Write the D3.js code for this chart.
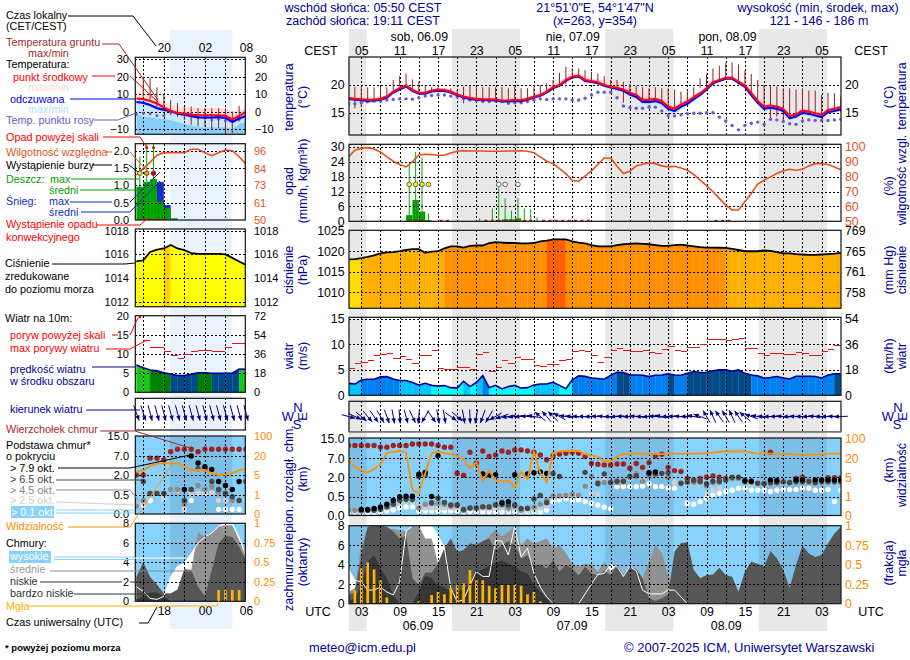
<!DOCTYPE html>
<html><head><meta charset="utf-8">
<script src="https://cdn.jsdelivr.net/npm/d3@7"></script>
<style>
html,body{margin:0;padding:0;background:#fff}
svg{display:block;font-family:"Liberation Sans",Arial,sans-serif;font-size:10.8px}
</style></head><body><svg id="c" width="910" height="660"></svg>
<script>
// ---------- main meteogram (hourly, 78 steps, 01 UTC 06.09 onward) ----------
const temp=[17.65,17.5,17.4,17.3,17.35,17.5,17.9,18.8,19.4,19.9,
19.1,18.6,18.6,19,19.15,19.1,18.8,18.3,17.9,17.65,
17.5,17.4,17.4,17.35,17.2,17.2,17.3,17.25,17.5,17.9,
18.2,18.8,19.6,20,20.9,21.5,21.7,20.9,20.7,20.5,
20,19.7,19.5,19.2,18.6,18.2,17.3,17.3,17.5,17.1,
16.1,15.7,16.5,17,17.8,18.5,19.4,20.5,20.9,21.3,
21.3,20.6,19.9,18.5,17.1,16.1,16.3,16.1,15.7,14.4,
14.7,15.4,15.2,14.9,14.6,15.5,15.7,16];
const feels=[17.5,17.35,17.25,17.15,17.2,17.35,17.75,18.65,19.25,19.75,
18.95,18.45,18.45,18.85,19,18.95,18.65,18.15,17.75,17.5,
17.35,17.25,17.25,17.2,17.05,17.05,17.15,17.1,17.35,17.75,
18.05,18.65,19.45,19.85,20.75,21.35,21.55,20.75,20.55,20.35,
19.85,19.55,19.3,18.95,18.3,17.85,16.95,16.9,17.1,16.7,
15.7,15.3,16.1,16.6,17.45,18.2,19.2,20.3,20.75,21.15,
21.15,20.4,19.65,18.2,16.8,15.7,15.9,15.7,15.3,14,
14.3,15,14.8,14.5,14.2,15.1,15.3,15.6];
const tempHi=[18.3,18.1,17.9,17.8,17.7,17.9,18.3,19.1,19.7,20.2,
19.4,18.9,18.9,19.3,19.5,19.4,19.1,18.6,18.2,18,
17.9,17.8,17.8,17.7,17.6,17.6,17.6,17.6,17.8,18.2,
18.6,19.3,20.1,20.5,21.3,22,22.2,21.5,21.2,21,
20.9,20.6,20.4,20.1,19.6,19.2,18.6,18.5,18.5,18.1,
17,16.4,17.2,17.6,18.2,18.9,19.7,20.8,21.2,21.6,
21.7,21,20.2,19,17.6,16.5,16.6,16.4,16,14.7,
15,15.7,15.5,15.2,14.9,15.8,16,16.3];
const feelsLo=[16.8,16.7,16.7,16.7,16.8,17,17.4,18.3,18.9,19.4,
18.6,18.1,18.2,18.5,18.7,18.6,18.4,17.9,17.5,17.2,
17.1,17,17,16.9,16.8,16.8,16.9,16.9,17.1,17.5,
17.8,18.4,19.2,19.6,20.5,21.1,21.3,20.5,20.3,20.1,
19.6,19.3,19,18.6,18,17.4,16.4,16.2,16.5,16,
15,14.6,15.5,16.1,17,17.8,18.9,20,20.5,20.9,
20.9,20.1,19.4,17.9,16.5,15.4,15.6,15.3,14.9,13.6,
13.9,14.6,14.4,14.1,13.8,14.7,15,15.2];
const dew=[16.6,16.6,16.8,17,17.1,17.1,17.3,17.4,17.5,17.5,
17.45,17.7,18,18.1,18.2,18.2,18,17.9,17.5,17.3,
17.2,17,17,17.1,17,16.7,16.8,16.8,17,17.3,
17.5,17.4,17.5,17.5,17.5,17.3,17.3,17.6,18.2,18.7,
18.7,18.7,17.7,16.2,15.9,15.8,15.8,16,16,15.3,
14.5,14.4,14.6,14.8,14.9,14.9,15,15,14.2,13.5,
12.7,11.9,12.7,13.1,13.3,12.9,13.8,13.7,13.4,13,
12.9,13.5,13.7,13.6,13.6,13.6,13.7,13.8];
const soilMax=[19.6,19.6,19.6,19.6,19.6,19.6,19.6,20.9,21.6,22.1,
21,20.6,19.9,19.6,19.6,19.4,19.4,19.1,19.7,19.8,
19.6,19.6,19.6,19.6,19.6,19.4,19.7,19.4,19.4,19.6,
20,20.3,20.9,22.2,23.3,23,23,22.7,22.4,22.1,
21.6,20.9,20.9,20.6,20.2,19.8,19.6,19.4,19.6,19.4,
19.4,19.2,18.8,19.2,19.6,21.2,22,23,23.5,24,
24.1,23.7,22.6,22,20.9,20,19.9,19.7,19.4,19.4,
19.2,19.4,19,19,18.2,18.6,18.5,17.9];
const soilMin=[16.2,15.8,16,16.7,17.4,17.4,17.9,19,19.7,19.8,
19,18.5,18.6,19,19.1,19.1,18.8,18.3,16.7,17.6,
17.4,17.3,17.3,17.1,17.1,16.8,17.1,17.1,17.4,17.8,
18.2,18.7,19.4,19.9,20.2,21.1,21.3,20.9,20.7,20.4,
19.8,19.6,19.4,16.8,18.7,17.6,17,17.3,17,16.7,
16,15.5,16.7,17,17.9,19.5,18.9,20.5,20.8,21.1,
21.1,20.5,19.7,18.4,16.7,16,14,14.3,13.7,14.2,
14.3,14.6,14.6,14.6,14.3,15,15.1,15.1];
const humidity=[93.3,97.8,99.1,99.6,98.7,96.7,93.3,90.4,88.2,86.6,
90,94.6,95.1,94.9,94.4,94.4,96,97.1,97.5,97.3,
97.3,97.3,97.1,97.1,97.1,97.3,97.3,97.5,97.1,96.2,
93.3,90.4,88.8,85.5,82.1,77.5,77,80.4,83.9,88.2,
92.6,92.6,87,82.1,83.7,87.3,88.4,89.5,88.8,87.3,
86.6,87,85.9,84.4,81.5,77.7,74,69.9,65.4,60.9,
57.6,57.6,63.2,68.7,75,77.7,79.9,82.1,83.9,85,
84.4,85,87.3,88.8,88.8,88.2,86.6,84.8];
const rainAvg=[0,0,0,0,0,0,0,0,0,2.5,
8.6,3.9,.5,0,0,0,0,0,0,0,
0,0,0,.3,.8,.8,1.2,.2,0,0,
0,0,0,0,0,0,0,0,0,0,
0,0,0,0,0,0,0,0,0,0,
0,0,0,0,0,0,0,0,0,0,
0,0,0,0,0,0,0,0,0,0,
0,0,0,0,0,0,0];
const rainMax=[0,0,0,0,0,0,0,0,0,22.7,
28,25.8,3.2,0,0,0,0,0,0,0,
1.2,0,5.2,13.7,9.3,4.3,9.3,5.2,5,1.5,
.5,0,0,0,0,0,0,0,0,0,
0,0,0,0,0,0,0,0,0,0,
0,0,0,0,0,0,0,0,0,0,
0,0,0,0,0,0,0,0,0,0,
0,0,0,0,0,0,0];
const convective=[9,10,11,14,15,21,22,23,24,25,26,27,28,30,31,32,33,34,35,36,37,57,58,59];
const thunderStrong=[9,10,11,12];
const thunderWeak=[23,24,26];
const pressure=[1018,1018.1,1018.3,1018.6,1019,1019.5,1019.7,1019.8,1020,1020.3,
1020.5,1020.5,1019.6,1019.9,1020,1020.7,1021.2,1021.2,1020.9,1021.3,
1021.4,1021.4,1022,1022.2,1022.1,1022,1022,1021.9,1021.9,1022,
1022.4,1022.6,1022.9,1022.9,1022.9,1022.4,1022.1,1021.9,1021.5,1021.2,
1021.2,1021.2,1021.5,1021.7,1021.8,1021.9,1021.8,1021.7,1021.5,1021.3,
1021.3,1021.5,1021.6,1021.4,1021.2,1021,1020.9,1020.9,1020.85,1020.8,
1020.6,1020.3,1020,1020,1020,1020.2,1020.1,1019.8,1019.5,1019.5,
1019.3,1019.2,1019.1,1019.1,1019.2,1019.3,1019.4,1019.6];
const wind=[2.35,2.2,3,3.15,3.15,3.6,3.65,3.2,2.9,2.9,
2.5,2,2.35,1.95,1.8,1.9,1.5,1.4,2.75,1.7,
2.5,3.85,1.5,1.95,1.25,1.7,1.95,1.4,1.5,2,
2.2,2.2,2.55,1.95,1.3,3.02,3.8,3.7,3.4,3.3,
3.14,3.9,4.5,4.45,3.98,3.98,3.93,3.67,3.93,3.98,
4.2,3.98,3.93,4.3,4.65,4.45,4.5,4.8,4.98,4.98,
4.7,4.98,4.3,3.98,3.8,3.34,3.47,3.67,3.4,3.2,
3.73,3.73,3.73,3.67,3.4,3.98,4.2,4.2];
const gust=[5.3,6.3,6.5,6.9,7.9,8.1,8.25,7.3,7.7,7.1,
6.3,7.9,7.9,8.8,5.3,5.2,5.2,5.5,5.6,5.2,
8.05,8.45,4.7,5.6,6.9,6.3,7.5,7.1,7.1,5.9,
5.7,6.1,6.1,6.9,7.1,8.65,8.8,8.65,7.9,6.5,
7.5,8.9,9.2,8.85,8.65,8.65,8.9,8.45,8.25,9,
9.7,8.9,8.65,9.4,9.55,10.1,11,11.1,11.1,10.8,
11,11.2,9.2,9.2,8.25,7.85,8.25,8.25,8.05,8.05,
8.45,8.25,7.85,7.85,8.65,9,9.9];
const windDir=[285,295,310,320,325,330,340,350,355,345,
335,5,30,325,350,350,305,310,350,358,
10,20,30,60,70,80,85,85,95,100,
130,140,135,120,100,95,92,90,88,92,
95,88,85,92,88,95,90,85,95,100,
88,92,95,90,100,110,150,155,145,150,
155,145,130,110,100,92,88,90,95,88,
92,90,88,95,90,88,92,88];
const cloudTop=[12.1,12.1,12.1,12.1,12.1,11.4,11.4,12.1,12.1,12.1,
12.7,12.7,12.7,12.7,12.1,11.4,11.4,3.05,2.5,9.4,
5.7,9.9,7.7,8.3,9.9,9.4,10.3,10.3,9.9,9.4,
8.3,6.6,8,8.7,9,9.4,9,7.7,5.6,5.4,
5.25,5.25,5.5,5.5,4.35,5.6,4.6,5.85,8,8.6,
4.6,3.75,3.5,1.92,1.8,1.92,2,2.35,2,1.92,
1.97,1.92,null,null,null,null,9.4,null,null,null,
1.92,2,null,null,null,1.97,1.97,1.97];
const base79=[null,null,.16,.16,.19,.23,.3,.4,.5,.54,
.54,2.8,3.3,.52,8,null,null,null,null,null,
null,2.9,2.7,2.7,.34,.37,2.7,null,2.9,3.2,
3.4,3,null,null,null,null,null,null,null,null,
null,null,null,null,null,null,null,3.2,3.4,null,
null,null,null,null,null,null,null,null,null,null,
null,null,1.75,1.7,null,null,1.8,1.75,null,null,
1.8,1.8,null,1.8,1.8,1.8,1.8,1.8];
const base65=[null,null,.14,.14,.14,.17,.23,.3,.41,.43,
.43,2.2,2.5,.34,.46,.35,.28,.28,.16,.2,
.2,.23,.23,.28,.3,.28,.28,.19,.19,.44,
.6,.34,3,2.2,null,null,null,3.3,null,1.5,
2.9,1.6,1.7,1.7,2.3,2.4,null,3,2.9,3,
3.2,null,1.55,1.65,1.75,1.7,1.5,1.7,1.7,1.8,
2,2,1.7,1.7,1.55,1.5,1.6,1.6,1.65,1.6,
1.7,1.7,1.7,1.6,1.7,1.7,1.7,1.7];
const base45=[.14,.14,.12,.15,.17,.2,.26,.33,.4,.42,
.42,.2,.3,.32,.32,.3,.25,.26,.14,.2,
.2,.24,.22,.3,.28,.2,.24,.14,.2,.22,
.3,.4,.55,.55,.6,.7,.62,1.3,2.3,1.6,
1.6,1.6,1.6,1.65,2,3,1.7,2.5,2.6,3,
2,null,1.5,1.6,1.6,1.6,1.35,1.6,1.6,1.8,
1.9,1.9,1.6,1.6,1.5,1.5,1.5,1.55,1.65,1.6,
1.6,1.6,1.6,1.55,1.6,1.6,1.6,1.6];
const base25=[.12,.12,.1,.12,.12,.15,.2,.3,.35,.38,
.38,.28,.2,.2,.2,.2,.2,.2,.12,.18,
.18,.2,.18,.2,.2,.16,.18,.12,.14,.15,
.2,.25,.5,.55,.56,.6,.58,1.28,.76,.7,
1.8,1.6,1.6,1.6,1.9,3,1.8,2.6,2.6,2.6,
3,1.6,1.5,1.5,1.5,1.5,.76,1,1.15,1.8,
1.9,1.9,1.6,1.5,1.5,1.4,1.5,1.5,1.6,1.6,
1.6,1.6,1.6,1.55,1.55,1.55,1.55,1.55];
const base01=[.1,.1,.08,.08,.08,.1,.12,.15,.2,.23,
.23,.12,.12,.12,.12,.12,.12,.12,.1,.1,
.1,.1,.1,.1,.1,.1,.1,.1,.1,.1,
.1,.15,.37,.42,.45,.4,.42,.37,.32,.28,
.22,.18,1.28,1.28,1.28,1.28,1.33,1.5,1.28,1.28,
1.15,1.15,null,.32,.3,.37,.46,.63,.76,.9,
1,1.15,1.15,1,1,1,.9,1,1.05,1.05,
1.05,1.15,1.15,1,1,1.05,.37,1];
const visibility=[18.7,13,10.5,8.7,11.5,15.3,40,45,49,44,
2.4,1.7,8,40,47,40,36,30.7,18.7,12.1,
16.8,4.3,10,4.4,4.1,4.3,2.9,9.5,4.6,47,
8.2,4,40,47,49,49,49,36,30,26.7,
17.4,17.4,26.7,36,36,38,38,36,36,36,
38,38,38,38,38,38,40,42,45,47,
47,47,47,42,38,38,38,36,36,36,
34,34,34,34,34,38,38,38];
const cloudHigh=[3.6,2.4,2.25,1.4,1.4,1.7,1.2,.9,2.25,7.4,
8,8,8,8,7,5.7,1.6,.2,.4,1.9,
3.3,2.8,2.8,6.5,6.4,5,7.9,4.8,5.7,3.1,
1.7,.7,0,0,0,0,0,1,2,3,
3.1,4,3.8,2.8,3.8,3.4,1.4,1,1,1,
1.4,1.4,.7,0,0,0,0,0,0,0,
0,0,0,0,0,0,0,0,0,0,
0,0,0,0,0,0,0,0];
const cloudMid=[1.2,1.6,6,7.9,8,7.9,7.7,7.7,7.55,7.4,
8,8,6.7,6.7,4.1,5.7,6.7,5.3,5.5,6,
6.2,6.4,6.9,7.6,6.9,7.4,7.9,6,6.7,6.2,
6.4,6.7,5.7,6,5.2,4.1,3.8,4.1,4,3.3,
4.3,3.3,4,3.1,3.8,3.5,2.6,4.3,6,5.2,
2.9,1.5,.7,0,0,0,0,0,0,0,
0,0,0,0,0,0,0,0,0,0,
0,0,0,0,0,0,0,0];
const cloudLow=[.9,1.2,5,7.9,8,8,7.9,7.4,6.7,7,
2.6,1.9,3.2,3.2,4.1,5.7,6.7,5.3,5.5,6.2,
6,6.4,6.7,5.5,6,6.4,6,4.6,5,4,
4,3.6,4.5,3.3,4,3.6,2.9,3.8,3.1,2.9,
3.35,2.94,3.97,2.77,3.8,3.55,2.6,.55,.27,.55,
.9,5.33,6.2,6.3,3.45,2.6,2.94,3,3.7,2.94,
2.77,1.23,3.3,4.3,4.1,3.8,5.4,4.65,3.45,1.64,
3.97,5.95,5.15,4.8,5,6.2,7.2,7.9];
const cloudVeryLow=[.3,.5,1.9,4.3,5,3.6,2.6,.9,0,0,
0,1.2,2.9,2.6,1.9,1.7,1.2,1.2,1.5,1.9,
3.3,3.5,3.9,4.2,4.4,4.1,3.8,3.3,3.1,1.9,
1.2,.5,0,0,0,0,0,0,0,0,
0,0,0,0,0,0,0,0,0,0,
0,0,0,0,0,0,0,0,0,0,
0,0,0,0,0,0,0,0,0,0,
0,0,0,0,0,0,0,0];
const fog=[.02,.17,.45,.53,.44,.3,.08,0,0,0,
0,.03,0,.11,.15,.12,.2,.24,.26,.43,
.3,.3,.23,.2,.24,.24,.25,.23,.12,.15,
.03,0,0,0,0,0,0,0,0,0,
0,0,0,0,0,0,0,0,0,0,
0,0,0,0,0,0,0,0,0,0,
0,0,0,0,0,0,0,0,0,0,
0,0,0,0,0,0,0,0];
const nightStart=[-2,16.18,40.18,64.18];
const nightEnd=[2.83,26.83,50.83,74.83];
// tick labels
const cestTicks=["05","11","17","23","05","11","17","23","05","11","17","23","05"];
const utcTicks=["03","09","15","21","03","09","15","21","03","09","15","21","03"];
const dayTitles=["sob, 06.09","nie, 07.09","pon, 08.09"];
const dayDates=["06.09","07.09","08.09"];

// ---------- left "current" panel (hourly, 17 steps) ----------
const lTemp=[7.5,7.1,6.1,4.6,2.3,.4,-.8,-1.1,-1.7,-2.1,-2.1,-2.1,-2.1,-2.5,-4.4,-2.5,-.1];
const lFeels=[5.5,5,3.8,2,1,.3,-1.2,-1.8,-2.6,-3.4,-3.5,-3.4,-3.2,-3.6,-6,-4,-2.6];
const lHi=[12,11,9,7,5,3.5,2.5,2.5,2.5,2,2,2,2,1.5,0,1,2];
const lLo=[-1.5,-3,-3,-4,-4,-5,-6,-7,-8,-9,-9,-9,-9,-9,-10,-7,-6];
const lDew=[-1.5,-1,-1.3,-2.3,-2.3,-.6,-1,-1.3,-1.5,-3.4,-3.3,-4.8,-4.4,-5.2,-5.2,-4.2,-1.9];
const lSoilMax=[null,20,19.1,14,9.6,6.7,4.8,2.9,2.9,1.9,1.9,1.9,1.9,1.9,0,3.3,null];
const lSoilMin=[null,8.6,6.7,2.9,1,-1.9,-2.9,-4.8,-7.6,-8.6,-8.6,-10.5,-9.6,-12.4,-12.4,-5.7,null];
const lHumidity=[79.8,84.3,88.3,93,94.7,94.7,94.7,94.7,97,97,94.7,92.7,94.7,96.4,96,92,87];
const lRainAvg=[.96,1.1,1.18,.53,.34,.05,0,0,0,0,0,0,0,0,0,0];
const lSnowTop=[0,0,0,1.1,.43,0,0,0,0,0,0,0,0,0,0,0];
const lRainMax=[1.83,2.3,2.3,0,0,0,0,0,0,0,0,0,0,0,0,0];
const lConvective=[1,2,3,4];
const lPressure=[1015.4,1015.5,1016.2,1016.4,1016.5,1016.8,1016.5,1016.35,1016.1,1016.05,1016.05,1016.05,1016.05,1016,1015.7,1015.4,1015.1];
const lWind=[7.1,6.4,5.8,5.6,5.1,4.8,4.4,4.35,4.7,5.1,5.1,4.98,4.95,4.98,4.98,6.05,6];
const lGust=[20,13.65,11.7,11.7,10.7,9.7,9,9.9,10.7,11,11,10.7,10.7,11.7,12.8,13];
const lDir=[340,342,345,345,345,345,345,345,345,345,345,345,345,345,345,345,345];
const lTop=[2,2,6.5,6.5,6,8.8,9.75,9.75,9.75,8.8,9.75,9.75,9.75,9.75,9.75,9.75,9.75];
const lB79=[null,null,null,null,null,null,null,.9,7.1,5.2,4.2,3.5,1.5,1.2,.9,1.5,null];
const lB65=[null,1.5,.6,.6,.6,null,null,.35,.9,3.7,3.7,1.5,.9,.6,.45,.35,1.5];
const lB45=[.2,.35,.6,.6,.6,.9,.9,.25,.9,1.2,.9,1.1,.7,.55,.35,.35,1.5];
const lB25=[.2,.3,.55,.6,.4,.9,.8,.1,.55,.6,.6,.6,.35,.35,.35,.35,.35];
const lB01=[null,.23,.35,null,.4,null,null,.12,.35,.6,.6,.6,.12,.12,.12,.12,null];
const lVis=[7.7,8.5,12.5,14,14.4,14.4,14.4,12,9,9,9,6.3,5,5.5,6.3,9,9.5];
const lHigh=[1.5,1,.3,.2,.5,2.5,3.6,3.9,4.9,6,6.6,7,7.7,8,8,6.6,4.6];
const lMid=[2.5,4,2.5,1.7,.8,.8,1.2,3.3,3.2,7.1,6.6,7,7.7,7.8,7.8,6.3,4.6];
const lLow=[2.5,4,2.5,1.7,.8,.8,1.16,3.3,3.2,1.5,.5,3.2,5.95,6.7,6.6,5.6,4.07];
const lVeryLow=[.2,.5,.9,.9,.5,0,0,0,0,0,0,0,0,0,0,0,0];
const lFog=[0,0,0,0,0,0,0,0,0,0,0,0,.145,.145,.145,.145,0];

// ---------- drawing ----------
const svg=d3.select("#c");
const navy="#000099",humCol="#e8501a",orange="#ff8c00",soilCol="#a01c1c",dewCol="#6a5acd";
const xM=d3.scaleLinear([0,77],[348.5,840.8]);
const xL=d3.scaleLinear([0,16],[136.4,246]);
const ML={l:349,r:841},LL={l:135.3,r:245.3};
const FM=12.3,FL=11;
let clipId=0;
function frame(side,top,bot){
  const g=svg.append("g");
  const id="cp"+(clipId++);
  svg.append("clipPath").attr("id",id).append("rect").attr("x",side.l).attr("y",top).attr("width",side.r-side.l).attr("height",bot-top);
  g.attr("clip-path",`url(#${id})`);
  return g;
}
function border(side,top,bot,w){
  svg.append("rect").attr("x",side.l).attr("y",top).attr("width",side.r-side.l).attr("height",bot-top)
    .attr("fill","none").attr("stroke","#111").attr("stroke-width",w||1.2);
}
function grid(g,side,top,bot,vx,hy){
  g.selectAll(null).data(vx).join("line").attr("x1",d=>Math.round(d)+.5).attr("x2",d=>Math.round(d)+.5).attr("y1",top).attr("y2",bot)
    .attr("stroke","#000").attr("stroke-dasharray","2,2").attr("stroke-width",1).attr("shape-rendering","crispEdges");
  g.selectAll(null).data(hy).join("line").attr("y1",d=>Math.round(d)+.5).attr("y2",d=>Math.round(d)+.5).attr("x1",side.l).attr("x2",side.r)
    .attr("stroke","#000").attr("stroke-dasharray","2,2").attr("stroke-width",1).attr("shape-rendering","crispEdges");
}
function yAxis(scale,vals,x,side,color,fmt,fs){
  const a=(side==="l"?d3.axisLeft(scale):d3.axisRight(scale)).tickValues(vals).tickSize(0).tickPadding(0);
  if(fmt)a.tickFormat((d,i)=>fmt[i]);else a.tickFormat(d3.format("d"));
  const g=svg.append("g").attr("transform",`translate(${x},0)`).call(a);
  g.select(".domain").remove();
  g.selectAll("text").attr("font-family","Liberation Sans").attr("font-size",fs||FM).attr("fill",color||"#000");
}
const vM=d3.range(2,77,3).map(i=>xM(i));
const vL=[1,4,7,10,13].map(j=>xL(j));

// night bands
const nights=nightStart.map((s,k)=>[s,nightEnd[k]]);
svg.selectAll("rect.n").data(nights).join("rect").attr("class","n")
  .attr("x",d=>Math.max(xM(d[0]),349)).attr("width",d=>xM(d[1])-Math.max(xM(d[0]),349))
  .attr("y",29).attr("height",602).attr("fill","#e8e8e8");
svg.append("rect").attr("x",xL(4.9)).attr("width",xL(14)-xL(4.9)).attr("y",30).attr("height",599).attr("fill","#eaf2fd");

// helper series
const idx=a=>a.map((v,i)=>({i,v}));
function lineOf(x,y,a){return d3.line().defined(d=>d.v!=null).x(d=>x(d.i)).y(d=>y(d.v))(idx(a));}
function areaBetween(x,y,hi,lo){return d3.area().x((d,k)=>x(k)).y0((d,k)=>y(lo[k])).y1((d,k)=>y(hi[k]))(hi);}
function areaBase(x,y,a,b0){return d3.area().x((d,k)=>x(k)).y0(y(b0)).y1(d=>y(d))(a);}

// ---- temperature
function tempPanel(side,x,top,bot,y,T,F,H,L,D,SMa,SMi,dots,floor,vg,ticks,w){
  const g=frame(side,top,bot);
  g.append("path").attr("d",areaBetween(x,y,H,T)).attr("fill","#ffdcd8");
  if(floor!=null){
    g.append("path").attr("d",areaBetween(x,y,T,L)).attr("fill","#c4e9fd");
    g.append("path").attr("d",areaBase(x,y,L,floor)).attr("fill","#86cdf8");
  } else {
    g.append("path").attr("d",areaBetween(x,y,F,L)).attr("fill","#c4e9fd");
  }
  grid(g,side,top,bot,vg,ticks.map(y));
  g.selectAll(null).data(d3.range(T.length).filter(i=>SMa[i]!=null)).join("line")
    .attr("x1",i=>x(i)).attr("x2",i=>x(i)).attr("y1",i=>y(SMa[i])).attr("y2",i=>y(SMi[i]))
    .attr("stroke",soilCol).attr("stroke-width",1);
  g.selectAll(null).data(idx(D)).join("circle").attr("cx",d=>x(d.i)).attr("cy",d=>y(d.v)).attr("r",dots).attr("fill",dewCol);
  g.append("path").attr("d",lineOf(x,y,F)).attr("fill","none").attr("stroke","#0000ee").attr("stroke-width",w);
  g.append("path").attr("d",lineOf(x,y,T)).attr("fill","none").attr("stroke","#ff0022").attr("stroke-width",w);
  border(side,top,bot);
}
const yT=d3.scaleLinear([15,20],[112.7,85]);
tempPanel(ML,xM,57,135,yT,temp,feels,tempHi,feelsLo,dew,soilMax,soilMin,1.7,null,vM,[15,20],2.2);
yAxis(yT,[15,20],344.5,"l");yAxis(yT,[15,20],845,"r");
const yTL=d3.scaleLinear([-10,30],[129,59.3]);
tempPanel(LL,xL,57.3,134.3,yTL,lTemp,lFeels,lHi,lLo,lDew,lSoilMax,lSoilMin,1.5,-20,vL,[-10,0,10,20,30],2.2);
yAxis(yTL,[-10,0,10,20,30],129,"l","#000",null,FL);yAxis(yTL,[-10,0,10,20,30],255,"r","#000",null,FL);

// ---- rain
const yR=d3.scaleLinear([0,30],[221.3,147]);
const yH=d3.scaleLinear([50,100],[221.3,147]);
(function(){
  const g=frame(ML,144.3,221.3);
  g.selectAll(null).data(idx(rainAvg).filter(d=>d.v>0)).join("rect")
    .attr("x",d=>xM(d.i)).attr("width",d=>xM(d.i+1)-xM(d.i)).attr("y",d=>yR(d.v)).attr("height",d=>yR(0)-yR(d.v)).attr("fill","#00a000");
  g.selectAll(null).data(idx(rainMax).filter(d=>d.v>0)).join("line")
    .attr("x1",d=>xM(d.i+.5)).attr("x2",d=>xM(d.i+.5)).attr("y1",d=>yR(d.v)).attr("y2",yR(0)).attr("stroke","#00b000").attr("stroke-width",1);
  grid(g,ML,144.3,221.3,vM,[6,12,18,24,30].map(yR));
  g.append("path").attr("d",lineOf(xM,yH,humidity)).attr("fill","none").attr("stroke",humCol).attr("stroke-width",1.6);
  g.selectAll(null).data(thunderStrong).join("circle").attr("cx",i=>xM(i+.5)).attr("cy",yR(14.9)).attr("r",2.3).attr("fill","#ffee22").attr("stroke","#444").attr("stroke-width",.8);
  g.selectAll(null).data(thunderWeak).join("circle").attr("cx",i=>xM(i+.5)).attr("cy",yR(14.9)).attr("r",2.3).attr("fill","#fff").attr("stroke","#444").attr("stroke-width",.8);
  g.selectAll(null).data(convective).join("rect").attr("x",i=>xM(i+.5)-1.5).attr("width",3).attr("y",yR(0)-1.5).attr("height",2).attr("fill","#e01010");
  border(ML,144.3,221.3);
})();
yAxis(yR,[0,6,12,18,24,30],344.5,"l");
yAxis(yH,[50,60,70,80,90,100],845,"r",humCol);
const yRL=d3.scaleLinear([0,2],[220,150.7]);
const yHL=d3.scaleLinear([50,96],[220,150.7]);
(function(){
  const g=frame(LL,143.7,220);
  g.selectAll(null).data(idx(lSnowTop).filter(d=>d.v>0)).join("rect")
    .attr("x",d=>xL(d.i)).attr("width",d=>xL(d.i+1)-xL(d.i)).attr("y",d=>yRL(d.v)).attr("height",d=>yRL(0)-yRL(d.v)).attr("fill","#1030c8");
  g.selectAll(null).data(idx(lRainAvg).filter(d=>d.v>0)).join("rect")
    .attr("x",d=>xL(d.i)).attr("width",d=>xL(d.i+1)-xL(d.i)).attr("y",d=>yRL(d.v)).attr("height",d=>yRL(0)-yRL(d.v)).attr("fill","#00a000");
  g.selectAll(null).data(idx(lRainMax).filter(d=>d.v>0)).join("line")
    .attr("x1",d=>xL(d.i+.5)).attr("x2",d=>xL(d.i+.5)).attr("y1",d=>yRL(d.v)).attr("y2",yRL(0)).attr("stroke","#00b000").attr("stroke-width",1);
  grid(g,LL,143.7,220,vL,[.5,1,1.5,2].map(yRL));
  g.append("path").attr("d",lineOf(xL,yHL,lHumidity)).attr("fill","none").attr("stroke",humCol).attr("stroke-width",1.6);
  g.selectAll(null).data([[0,"#ffee22"],[1,"#f0a000"],[2,"#e00000"]]).join("circle").attr("cx",d=>xL(d[0]+.5)).attr("cy",yRL(1.35)).attr("r",2.3).attr("fill",d=>d[1]).attr("stroke","#333").attr("stroke-width",.8);
  g.selectAll(null).data([1,2]).join("rect").attr("x",i=>xL(i+.5)-1.3).attr("width",2.6).attr("y",146.4).attr("height",2.6).attr("fill","#e00000");
  g.selectAll(null).data(lConvective).join("rect").attr("x",i=>xL(i)-1.3).attr("width",3).attr("y",yRL(0)-1.5).attr("height",2).attr("fill","#e01010");
  border(LL,143.7,220);
})();
yAxis(yRL,[0,.5,1,1.5,2],129,"l","#000",["0.0","0.5","1.0","1.5","2.0"],FL);
yAxis(yHL,[50,61,73,84,96],254,"r",humCol,null,FL);

// ---- pressure
const pCol=d3.scaleThreshold([1018.4,1020.8,1022.75],["#ffdd00","#ffb000","#ff9000","#ff5f00"]);
function columns(g,x,y,arr,b0,color){
  g.selectAll(null).data(d3.range(arr.length-1)).join("path")
    .attr("d",i=>d3.area().x(d=>x(d.i)).y0(y(b0)).y1(d=>y(d.v))([{i,v:arr[i]},{i:i+1,v:arr[i+1]}]))
    .attr("fill",color).attr("stroke",color).attr("stroke-width",.3);
}
const yP=d3.scaleLinear([1010,1025],[292.3,230.7]);
(function(){
  const g=frame(ML,230.3,308.3);
  columns(g,xM,yP,pressure,1000,i=>pCol(pressure[i+1]));
  grid(g,ML,230.3,308.3,vM,[1010,1015,1020].map(yP));
  g.append("path").attr("d",lineOf(xM,yP,pressure)).attr("fill","none").attr("stroke","#000").attr("stroke-width",1.8);
  border(ML,230.3,308.3);
})();
yAxis(yP,[1010,1015,1020,1025],344.5,"l");
yAxis(yP,[1010,1015,1020,1025],845,"r","#000",["758","761","765","769"]);
const yPL=d3.scaleLinear([1012,1018],[301.7,230.7]);
const pColL=d3.scaleThreshold([1016.7],["#ffff00","#ffd000"]);
(function(){
  const g=frame(LL,229,306.7);
  columns(g,xL,yPL,lPressure,1000,i=>pColL(lPressure[i+1]));
  g.append("rect").attr("x",LL.l).attr("width",xL(0)-LL.l).attr("y",yPL(lPressure[0])).attr("height",80).attr("fill","#ffff00");
  grid(g,LL,229,306.7,vL,[1012,1014,1016,1018].map(yPL));
  g.append("path").attr("d",lineOf(xL,yPL,lPressure)).attr("fill","none").attr("stroke","#000").attr("stroke-width",1.8);
  border(LL,229,306.7);
})();
yAxis(yPL,[1012,1014,1016,1018],129,"l","#000",null,FL);yAxis(yPL,[1012,1014,1016,1018],254,"r","#000",null,FL);

// ---- wind
const wCol=d3.scaleThreshold([2,3,4,5,6],["#00ffff","#00c4ff","#0080f0","#004a88","#008000","#18c818"]);
function windPanel(side,x,top,bot,y,W,G,vg,hs){
  const g=frame(side,top,bot);
  columns(g,x,y,W,0,i=>wCol(W[i]));
  grid(g,side,top,bot,vg,hs.map(y));
  g.selectAll(null).data(idx(G).filter(d=>d.v<20)).join("line")
    .attr("x1",d=>x(d.i)).attr("x2",d=>x(d.i+1)).attr("y1",d=>Math.round(y(d.v))+.5).attr("y2",d=>Math.round(y(d.v))+.5)
    .attr("stroke","#ee1111").attr("stroke-width",1).attr("shape-rendering","crispEdges");
  g.append("path").attr("d",lineOf(x,y,W)).attr("fill","none").attr("stroke","#000099").attr("stroke-width",1.6);
  border(side,top,bot);
}
const yW=d3.scaleLinear([0,15],[395.3,318.7]);
windPanel(ML,xM,317.3,395.3,yW,wind,gust,vM,[5,10,15]);
yAxis(yW,[0,5,10,15],344.5,"l");
yAxis(yW,[0,5,10,15],845,"r","#000",["0","18","36","54"]);
const yWL=d3.scaleLinear([0,20],[392.3,315.7]);
windPanel(LL,xL,315.7,392.3,yWL,lWind,lGust,vL,[5,10,15]);
svg.append("rect").attr("x",xL(.5)-1.2).attr("y",315.8).attr("width",2.4).attr("height",2.4).attr("fill","#e00000");
yAxis(yWL,[0,5,10,15,20],129,"l","#000",null,FL);
yAxis(yWL,[0,5,10,15,20],254,"r","#000",["0","18","36","54","72"],FL);

// ---- wind direction
function arrows(parent,x,cy,dirs,L){
  const rad=d3.scaleLinear([0,360],[0,2*Math.PI]);
  const g=parent.append("g");
  g.selectAll(null).data(idx(dirs)).join("g").each(function(d){
    const a=rad(d.v),sx=Math.sin(a),sy=-Math.cos(a),c=x(d.i);
    const hx=c-sx*L/2,hy=cy-sy*L/2,tx=c+sx*L/2,ty=cy+sy*L/2;
    const s=d3.select(this);
    s.append("line").attr("x1",tx).attr("y1",ty).attr("x2",hx).attr("y2",hy).attr("stroke","#00008b").attr("stroke-width",1);
    const bx=hx+sx*5,by=hy+sy*5,nx=-sy*2.2,ny=sx*2.2;
    s.append("path").attr("d",`M${hx},${hy}L${bx+nx},${by+ny}L${bx-nx},${by-ny}Z`).attr("fill","#00008b");
  });
}
(function(){
  const g=frame(ML,401.3,431.7);
  grid(g,ML,401.3,431.7,vM,[]);
  arrows(svg,xM,416.5,windDir,14);
  border(ML,401.3,431.7);
  svg.append("line").attr("x1",ML.l).attr("x2",ML.r).attr("y1",431.7).attr("y2",431.7).attr("stroke","#777").attr("stroke-width",1.5);
  const g2=frame(LL,398.3,430);
  grid(g2,LL,398.3,430,vL,[]);
  arrows(svg,xL,413,lDir,16);
  border(LL,398.3,430);
})();

// ---- cloud base
function basePanel(side,x,top,bot,yB,yV,series,T,Vis,vg,night){
  const g=frame(side,top,bot);
  g.append("rect").attr("x",side.l).attr("y",top).attr("width",side.r-side.l).attr("height",bot-top).attr("fill","#87d2fd");
  night.forEach(n=>g.append("rect").attr("x",n[0]).attr("width",n[1]-n[0]).attr("y",top).attr("height",bot-top).attr("fill","#000").attr("opacity",.085));
  const cols=["#ffffff","#cfcfcf","#8c8c8c","#484848","#000000"];
  g.selectAll(null).data(idx(T).filter(d=>d.v!=null)).join("circle").attr("cx",d=>x(d.i)).attr("cy",d=>yB(d.v)).attr("r",2.7).attr("fill","#9e2424");
  series.forEach((a,k)=>{
    g.selectAll(null).data(idx(a).filter(d=>d.v!=null)).join("circle").attr("cx",d=>x(d.i)).attr("cy",d=>yB(d.v)).attr("r",2.7).attr("fill",cols[k]);
  });
  grid(g,side,top,bot,vg,[.5,2,7].map(yB));
  g.append("path").attr("d",lineOf(x,yV,Vis)).attr("fill","none").attr("stroke","#ff9000").attr("stroke-width",1.8);
  border(side,top,bot);
}
const yB=d3.scaleLinear([0,.5,2,7,15],[515.6,496.7,477.3,458.2,438.3]);
const yV=d3.scaleLinear([0,1,5,20,100],[515.6,496.7,477.3,458.2,438.3]);
const nightPx=nights.map(d=>[Math.max(xM(d[0]),349),xM(d[1])]);
basePanel(ML,xM,438,515.5,yB,yV,[base01,base25,base45,base65,base79],cloudTop,visibility,vM,nightPx);
yAxis(yB,[0,.5,2,7,15],344.5,"l","#000",["0.0","0.5","2.0","7.0","15.0"]);
yAxis(yV,[0,1,5,20,100],845,"r",orange,["0","1","5","20","100"]);
const yBL=d3.scaleLinear([0,.5,2,7,15],[514,494.7,475,456.3,436]);
const yVL=d3.scaleLinear([0,1,5,20,100],[514,494.7,475,456.3,436]);
const nightL=[[xL(4.9),xL(14)]];
basePanel(LL,xL,436,514,yBL,yVL,[lB01,lB25,lB45,lB65,lB79],lTop,lVis,vL,nightL);
yAxis(yBL,[0,.5,2,7,15],129,"l","#000",["0.0","0.5","2.0","7.0","15.0"],FL);
yAxis(yVL,[0,1,5,20,100],254,"r",orange,["0","1","5","20","100"],FL);

// ---- cloud cover
function coverPanel(side,x,top,bot,y,yF,H,M,L,V,F,vg,night){
  const g=frame(side,top,bot);
  g.append("rect").attr("x",side.l).attr("y",top).attr("width",side.r-side.l).attr("height",bot-top).attr("fill","#87d2fd");
  night.forEach(n=>g.append("rect").attr("x",n[0]).attr("width",n[1]-n[0]).attr("y",top).attr("height",bot-top).attr("fill","#000").attr("opacity",.085));
  g.append("path").attr("d",areaBase(x,y,H,0)).attr("fill","#fff");
  g.append("path").attr("d",areaBase(x,y,M,0)).attr("fill","#929292");
  g.append("path").attr("d",areaBase(x,y,L,0)).attr("fill","#565656");
  g.append("path").attr("d",areaBase(x,y,V,0)).attr("fill","#363636");
  g.append("path").attr("d",lineOf(x,y,H)).attr("fill","none").attr("stroke","#fff").attr("stroke-width",1);
  g.selectAll(null).data(idx(F).filter(d=>d.v>0)).join("rect")
    .attr("x",d=>x(d.i)-1.35).attr("width",2.7).attr("y",d=>yF(d.v)).attr("height",d=>yF(0)-yF(d.v)).attr("fill","#ffb400");
  grid(g,side,top,bot,vg,[2,4,6].map(y));
  border(side,top,bot);
}
const yC=d3.scaleLinear([0,8],[603.7,525.7]);
const yF=d3.scaleLinear([0,1],[603.7,525.7]);
coverPanel(ML,xM,525.7,603.7,yC,yF,cloudHigh,cloudMid,cloudLow,cloudVeryLow,fog,vM,nightPx);
yAxis(yC,[0,2,4,6,8],344.5,"l");
yAxis(yF,[0,.25,.5,.75,1],845,"r",orange,["0","0.25","0.5","0.75","1"]);
const yCL=d3.scaleLinear([0,8],[601.3,523.3]);
const yFL=d3.scaleLinear([0,1],[601.3,523.3]);
coverPanel(LL,xL,523.3,601.3,yCL,yFL,lHigh,lMid,lLow,lVeryLow,lFog,vL,nightL);
yAxis(yCL,[0,2,4,6,8],129,"l","#000",null,FL);
yAxis(yFL,[0,.25,.5,.75,1],254,"r",orange,["0","0.25","0.5","0.75","1"],FL);

// ---- time axes
function topAxis(x,vals,labels,yPos,fs){
  const g=svg.append("g").attr("transform",`translate(0,${yPos})`)
    .call(d3.axisTop(x).tickValues(vals).tickFormat((d,i)=>labels[i]).tickSize(0).tickPadding(0));
  g.select(".domain").remove();
  g.selectAll("text").attr("font-family","Liberation Sans").attr("font-size",fs||FM).attr("fill","#000");
}
const tickIdx=d3.range(2,77,6);
topAxis(xM,tickIdx,cestTicks,55);
topAxis(xM,tickIdx,utcTicks,616);
topAxis(xM,[11,35,59.2],dayTitles,41);
topAxis(xM,[10.8,34.9,59],dayDates,630);
topAxis(xL,[4,10,16],["20","02","08"],52,12);
topAxis(xL,[4,10,16],["18","00","06"],615,12);

// ---- text helpers
function t(x,y,s,c,o){
  const e=svg.append("text").attr("x",x).attr("y",y).text(s).attr("fill",c||"#000");
  if(o&&o.a)e.attr("text-anchor",o.a);
  if(o&&o.s)e.attr("font-size",o.s);
  if(o&&o.b)e.attr("font-weight","bold");
  return e;
}
function rot(x,y,s,c){
  return svg.append("text").attr("transform",`translate(${x},${y}) rotate(-90)`).attr("text-anchor","middle").text(s).attr("fill",c||navy).attr("font-size",12.5);
}
function lead(pts,c,w){
  svg.append("path").attr("d",d3.line()(pts)).attr("fill","none").attr("stroke",c).attr("stroke-width",w||1);
}
const S={a:"middle",s:12.5};
t(363,12,"wschód słońca: 05:50 CEST",navy,S);t(363,25,"zachód słońca: 19:11 CEST",navy,S);
t(595,12,"21°51'0\"E, 54°1'47\"N",navy,S);t(595,25,"(x=263,  y=354)",navy,S);
t(818,12,"wysokość (min, środek, max)",navy,S);t(819,25,"121 - 146 - 186 m",navy,S);
t(321,55,"CEST","#000",S);t(871,55,"CEST","#000",S);t(318,616,"UTC","#000",S);t(871,616,"UTC","#000",S);
t(309,652,"meteo@icm.edu.pl",navy,{s:12.8});
t(624,652,"© 2007-2025 ICM, Uniwersytet Warszawski",navy,{s:13});
t(5,651,"* powyżej poziomu morza","#000",{s:9.5,b:1});

// rotated axis names
rot(293,97,"temperatura");rot(307,97,"(°C)");
rot(293,181,"opad");rot(307,181,"(mm/h, kg/m³h)");
rot(293,270,"ciśnienie");rot(307,270,"(hPa)");
rot(293,356,"wiatr");rot(307,356,"(m/s)");
rot(293,479,"pion. rozciągł. chm.");rot(307,479,"(km)");
rot(293,572,"zachmurzenie");rot(307,562,"(oktanty)");
rot(893,97,"(°C)");rot(906,96,"temperatura");
rot(893,186,"(%)");rot(906,180,"wilgotność wzgl.");
rot(893,270,"(mm Hg)");rot(906,270,"ciśnienie");
rot(893,356,"(km/h)");rot(906,356,"wiatr");
rot(893,470,"(km)");rot(906,475,"widzialność");
rot(893,563,"(frakcja)");rot(906,563,"mgła");
// compass
[297,897].forEach(c=>{
  t(c-9,421,"W",navy,{a:"middle",s:13});t(c+1,412,"N",navy,{a:"middle",s:13});t(c,429,"S",navy,{a:"middle",s:13});
  svg.append("text").attr("transform",`translate(${c+10},416.5) rotate(-90)`).attr("text-anchor","middle").attr("fill",navy).attr("font-size",13).text("E");
});

// legend
const red="#ff0000",brown="#a52a2a",blue="#0000ee",green="#00a000";
t(6,19,"Czas lokalny");t(6,30,"(CET/CEST)");lead([[68,16],[133,16],[156,46]],"#000");
t(6,46,"Temperatura gruntu",brown);t(28,57,"max/min",brown);lead([[102,44],[119,44],[158,100]],brown);
t(6,68,"Temperatura:");
t(13,81,"punkt środkowy",red);lead([[92,76],[115,76]],red);lead([[130,76],[158,102]],red);
t(28,91,"max/min","#ffd8d0");
t(10,103,"odczuwana",blue);lead([[70,99],[135,99]],blue);
t(28,113,"max/min","#aee0fb");
t(6,124,"Temp. punktu rosy",dewCol);lead([[94,120],[118,120],[136,113]],dewCol);
t(6,141,"Opad powyżej skali",red);lead([[103,137],[140,137],[146,146]],red);
t(6,156,"Wilgotność względna",humCol);lead([[105,152],[112,152]],humCol);lead([[130,152],[148,172]],humCol);
t(6,169,"Wystąpienie burzy");lead([[92,165],[112,165]],"#000");lead([[129,165],[138,172]],"#000");
t(6,183,"Deszcz:",green);t(50,183,"max",green);lead([[71,179],[139,179]],green);
t(49,194,"średni",green);lead([[80,190],[139,190]],green);
t(6,205,"Śnieg:","#1030c8");t(49,205,"max","#1030c8");lead([[70,202],[112,202]],"#1030c8");lead([[130,202],[160,172]],"#1030c8");
t(49,216,"średni","#1030c8");lead([[81,212],[130,212],[160,181]],"#1030c8");
t(6,228,"Wystąpienie opadu",red);t(6,241,"konwekcyjnego",red);lead([[97,225],[140,225],[148,218]],red);
t(5,267,"Ciśnienie");t(5,280,"zredukowane");t(5,293,"do poziomu morza");lead([[52,264],[125,264],[135,263]],"#000");
t(5,322,"Wiatr na 10m:");
t(10,339,"poryw powyżej skali",red);lead([[112,335],[118,335]],red);lead([[130,335],[138,318]],red);
t(10,352,"max porywy wiatru",red);lead([[106,349],[130,349],[147,340]],red);
t(10,373,"prędkość wiatru",navy);t(10,385,"w środku obszaru",navy);lead([[92,367],[135,367]],navy);
t(10,413,"kierunek wiatru",navy);lead([[86,410],[140,410]],navy);
t(6,433,"Wierzchołek chmur",brown);lead([[100,431],[135,431],[190,448]],brown);
t(6,449,"Podstawa chmur*");t(6,460,"o pokryciu");
t(10,472,"> 7.9 okt.");lead([[58,468],[130,468],[190,455]],"#000");
t(10,483,"> 6.5 okt.","#444");lead([[56,480],[142,480]],"#444");
t(10,494,"> 4.5 okt.","#888");lead([[56,490],[130,490],[138,500]],"#888");
t(10,504,"> 2.5 okt.","#d0d0d0");lead([[56,502],[135,505]],"#d0d0d0");
svg.append("rect").attr("x",11).attr("y",506).attr("width",43).attr("height",12).attr("fill","#87d2fd");
t(11,515.5,"> 0.1 okt.","#fff");lead([[56,510],[135,510]],"#87d2fd");lead([[56,513],[135,513]],"#87d2fd");
t(6,530,"Widzialność",orange);lead([[68,527],[130,527],[173,463]],"#ff9000");
t(6,547,"Chmury:");
svg.append("rect").attr("x",9).attr("y",551).attr("width",42).attr("height",12).attr("fill","#87d2fd");
t(10,560,"wysokie","#fff");lead([[54,557],[135,557]],"#87d2fd");lead([[54,559.5],[135,559.5]],"#87d2fd");lead([[135,558],[186,558]],"#fff");
t(10,573,"średnie","#999");lead([[50,571],[192,571]],"#888");
t(10,585,"niskie","#333");lead([[40,582],[122,582]],"#333");lead([[130,582],[143,582]],"#333");
t(10,597,"bardzo niskie","#333");lead([[74,594],[150,594]],"#333");
t(6,610,"Mgła","#ffb400");lead([[27,606],[217,606],[219,600]],"#ffb400");
t(6,626,"Czas uniwersalny (UTC)");lead([[139,623],[148,623],[157,607]],"#000");
</script></body></html>
